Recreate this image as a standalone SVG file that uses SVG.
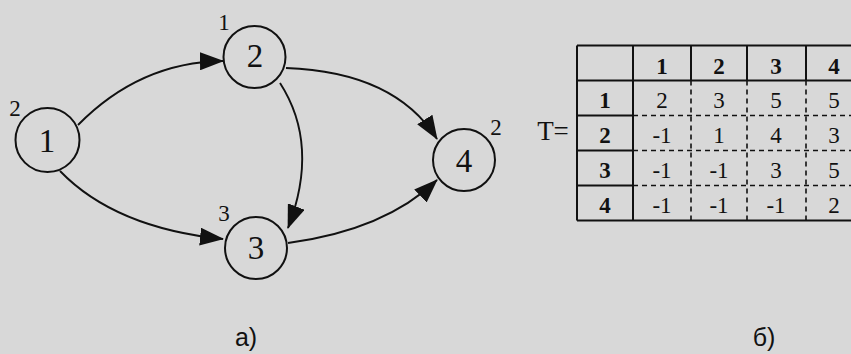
<svg xmlns="http://www.w3.org/2000/svg" width="851" height="354" viewBox="0 0 851 354">
<style>
.bg{fill:#d8d8d8}
.node circle{fill:none;stroke:#111;stroke-width:2}
.nl{font-family:"Liberation Serif",serif;font-size:33px;fill:#111;text-anchor:middle}
.w{font-family:"Liberation Serif",serif;font-size:23px;fill:#111;text-anchor:middle}
.edge{fill:none;stroke:#111;stroke-width:1.9}
.s{stroke:#111;stroke-width:2;fill:none}
.d{stroke:#111;stroke-width:1.6;stroke-dasharray:5 4;fill:none}
.tb{font-family:"Liberation Serif",serif;font-size:23px;font-weight:bold;fill:#111;text-anchor:middle}
.tv{font-family:"Liberation Serif",serif;font-size:23px;fill:#111;text-anchor:middle}
.cap{font-family:"Liberation Sans",sans-serif;font-size:25px;fill:#111;text-anchor:middle}
</style>
<defs>
<marker id="ah" viewBox="0 0 24 18" refX="23" refY="9" markerWidth="24" markerHeight="18" markerUnits="userSpaceOnUse" orient="auto">
<path d="M0,0 L24,9 L0,18 Z" fill="#111"/>
</marker>
</defs>
<rect class="bg" x="0" y="0" width="851" height="354"/>
<g id="edges">
<path class="edge" d="M78,125 Q140,62 223,61" marker-end="url(#ah)"/>
<path class="edge" d="M60,171 Q115,228 223,239" marker-end="url(#ah)"/>
<path class="edge" d="M280,83 Q320,145 288,228" marker-end="url(#ah)"/>
<path class="edge" d="M286,68 Q395,72 437,139" marker-end="url(#ah)"/>
<path class="edge" d="M288,243 Q385,230 437,180" marker-end="url(#ah)"/>
</g>
<g id="node1" class="node"><circle cx="47.5" cy="140" r="32"/><text class="nl" x="47" y="152">1</text><text class="w" x="15" y="116">2</text></g>
<g id="node2" class="node"><circle cx="254.5" cy="57" r="31"/><text class="nl" x="255" y="67">2</text><text class="w" x="224" y="30">1</text></g>
<g id="node3" class="node"><circle cx="256" cy="248" r="31"/><text class="nl" x="256" y="259">3</text><text class="w" x="224" y="221">3</text></g>
<g id="node4" class="node"><circle cx="464" cy="160" r="31"/><text class="nl" x="464" y="172">4</text><text class="w" x="496" y="135">2</text></g>
<g id="table">
<text class="tv" x="553" y="140" style="font-size:27px">T=</text>
<path class="d" d="M633,115.5H865 M633,150.5H865 M633,185.5H865 M691,80.5V220.5 M747,80.5V220.5 M806,80.5V220.5"/>
<path class="s" d="M577,45.5H865 M577,80.5H865 M577,220.5H865 M577,45.5V220.5 M633,45.5V220.5 M577,115.5H633 M577,150.5H633 M577,185.5H633 M691,45.5V80.5 M747,45.5V80.5 M806,45.5V80.5"/>
<text class="tb" x="662" y="74">1</text><text class="tb" x="719" y="74">2</text><text class="tb" x="776" y="74">3</text><text class="tb" x="834" y="74">4</text>
<text class="tb" x="605" y="108">1</text><text class="tb" x="605" y="143">2</text><text class="tb" x="605" y="178">3</text><text class="tb" x="605" y="213">4</text>
<text class="tv" x="662" y="108">2</text><text class="tv" x="719" y="108">3</text><text class="tv" x="776" y="108">5</text><text class="tv" x="834" y="108">5</text>
<text class="tv" x="662" y="143">-1</text><text class="tv" x="719" y="143">1</text><text class="tv" x="776" y="143">4</text><text class="tv" x="834" y="143">3</text>
<text class="tv" x="662" y="178">-1</text><text class="tv" x="719" y="178">-1</text><text class="tv" x="776" y="178">3</text><text class="tv" x="834" y="178">5</text>
<text class="tv" x="662" y="213">-1</text><text class="tv" x="719" y="213">-1</text><text class="tv" x="776" y="213">-1</text><text class="tv" x="834" y="213">2</text>
</g>
<text class="cap" x="246" y="346">а)</text>
<text class="cap" x="764" y="346">б)</text>
</svg>
